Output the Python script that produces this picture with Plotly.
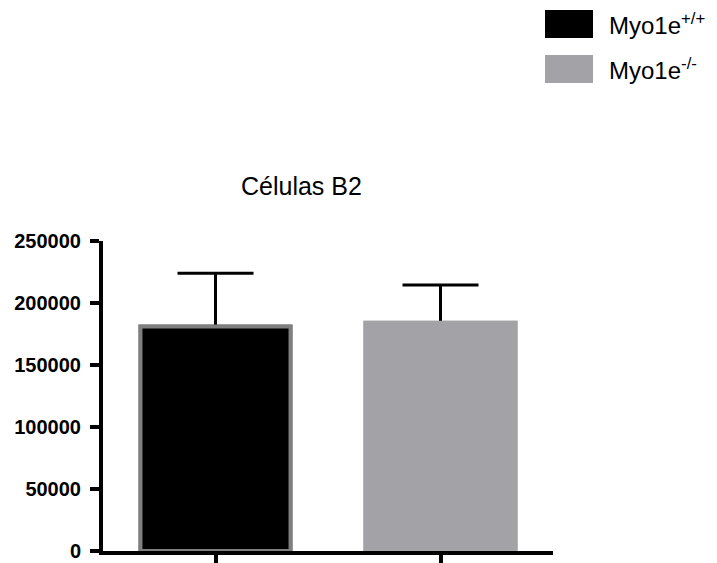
import plotly.graph_objects as go

# ---- data ----
categories = ["Myo1e+/+", "Myo1e-/-"]
means = [181000, 184000]
errors = [43000, 30500]
legend_labels = ["Myo1e<sup>+/+</sup>", "Myo1e<sup>-/-</sup>"]
y_ticks = [0, 50000, 100000, 150000, 200000, 250000]
title_text = "Células B2"

fill_colors = ["#000000", "#a3a2a7"]
line_colors = ["#7f7f7f", "#a3a2a7"]

# plot area in pixels
W, H = 717, 563
L, R, T, B = 103, 164, 241, 12
PW, PH = W - L - R, H - T - B


def px(x):
    return (x - L) / PW


def py(y):
    return (H - B - y) / PH


fig = go.Figure()
# bars carrying the error bars (lower half later hidden by overlay)
fig.add_trace(go.Bar(
    x=categories, y=means, width=0.667,
    marker=dict(color=fill_colors, line=dict(color=line_colors, width=4)),
    error_y=dict(type="data", array=errors, symmetric=True,
                 color="#000000", thickness=3, width=38),
    showlegend=False, hoverinfo="skip",
))
# visible bars drawn on top
fig.add_trace(go.Bar(
    x=categories, y=means, width=0.667,
    marker=dict(color=fill_colors, line=dict(color=line_colors, width=4)),
    showlegend=False,
))

font_family = "Liberation Sans, Arial, sans-serif"

fig.update_layout(
    width=W, height=H,
    margin=dict(l=L, r=R, t=T, b=B, pad=0, autoexpand=False),
    barmode="overlay",
    plot_bgcolor="white", paper_bgcolor="white",
    font=dict(family=font_family, color="black"),
    xaxis=dict(
        type="category", range=[-0.5, 1.5], automargin=False,
        showline=True, linecolor="black", linewidth=4,
        ticks="outside", ticklen=14, tickwidth=4, tickcolor="black",
        showticklabels=False, showgrid=False, zeroline=False, fixedrange=True,
    ),
    yaxis=dict(
        range=[0, 250000], tickvals=y_ticks, tickformat="d", automargin=False,
        showline=True, linecolor="black", linewidth=4,
        ticks="outside", ticklen=9, tickwidth=4, tickcolor="black",
        ticklabelstandoff=5,
        tickfont=dict(family=font_family, size=20, color="black", weight="bold"),
        showgrid=False, zeroline=False, fixedrange=True,
    ),
)

# title
fig.add_annotation(
    text=title_text, xref="paper", yref="paper",
    x=px(301), y=py(186), xanchor="center", yanchor="middle",
    showarrow=False, font=dict(family=font_family, size=25, color="black"),
)

# custom legend
box_tops = [10, 55]
for i, lab in enumerate(legend_labels):
    top = box_tops[i]
    fig.add_shape(
        type="rect", xref="paper", yref="paper",
        x0=px(545), x1=px(593), y0=py(top + 28), y1=py(top),
        fillcolor=fill_colors[i], line=dict(width=0),
    )
    fig.add_annotation(
        text=lab, xref="paper", yref="paper",
        x=px(607), y=py(top + 14), xanchor="left", yanchor="middle",
        showarrow=False, font=dict(family=font_family, size=24, color="black"),
    )

fig.write_html("out.html")
